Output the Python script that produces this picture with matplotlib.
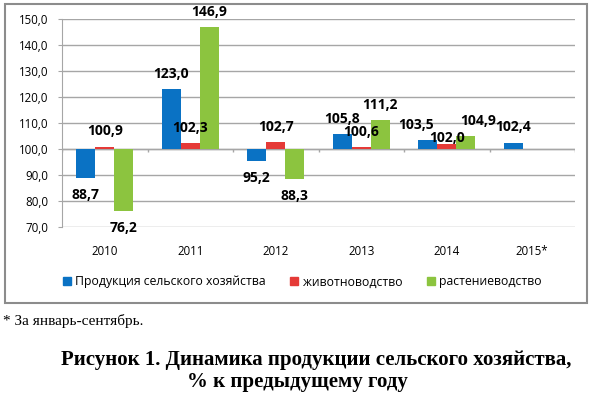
import numpy as np
import matplotlib.pyplot as plt
from matplotlib.patches import Rectangle, Patch
from matplotlib.ticker import FuncFormatter

years = ["2010", "2011", "2012", "2013", "2014", "2015*"]
total = [88.7, 123.0, 95.2, 105.8, 103.5, 102.4]
livestock = [100.9, 102.3, 102.7, 100.6, 102.0, np.nan]
crops = [76.2, 146.9, 88.3, 111.2, 104.9, np.nan]
series_names = ["Продукция сельского хозяйства", "животноводство", "растениеводство"]
colors = ["#0A72C4", "#E53A37", "#8CC43F"]

base = 100.0
# ручные сдвиги подписей (в пикселях), где они в оригинале сдвинуты
label_shift = {(4, 0): (-12, 0), (4, 1): (0, -9), (4, 2): (12, 0)}

W, H = 595, 397
fig = plt.figure(figsize=(W / 100, H / 100), dpi=100)
ax = fig.add_axes([62 / W, 1 - 227 / H, 513 / W, 208 / H])

x = np.arange(len(years))
bw = 0.222
grid_c = "#A6A6A6"

ax.set_ylim(70, 150)
ax.set_xlim(-0.5, len(years) - 0.5)
ax.set_yticks(np.arange(70, 151, 10))
ax.yaxis.set_major_formatter(FuncFormatter(lambda v, p: f"{v:.1f}".replace(".", ",")))
ax.grid(axis="y", color=grid_c, lw=1)
ax.set_axisbelow(True)
for s in ["top", "right", "bottom"]:
    ax.spines[s].set_visible(False)
ax.spines["left"].set_color(grid_c)
ax.tick_params(axis="y", length=3, color=grid_c, labelsize=8.3, pad=7)
ax.set_xticks(x)
ax.set_xticklabels(years)
ax.tick_params(axis="x", length=0, labelsize=8.3, pad=13)
for lab in ax.get_xticklabels() + ax.get_yticklabels():
    lab.set_fontfamily("Open Sans")

# ось категорий на уровне 100
ax.axhline(base, color=grid_c, lw=1, zorder=1)
ax.vlines(np.arange(-0.5, len(years)), base - 1.2, base, color=grid_c, lw=1)

for i, vals in enumerate([total, livestock, crops]):
    vals = np.array(vals)
    pos = x + (i - 1) * bw
    ok = ~np.isnan(vals)
    ax.bar(pos[ok], vals[ok] - base, bottom=base, width=bw, color=colors[i], zorder=2)
    for j in np.where(ok)[0]:
        v = vals[j]
        dy = 11 if v >= base else -12
        sx, sy = label_shift.get((j, i), (0, 0))
        ax.annotate(f"{v:.1f}".replace(".", ","), (pos[j], v), xytext=(sx * 0.72, dy + sy * 0.72),
                    textcoords="offset points", ha="center", va="center",
                    fontsize=10, fontweight="bold", family="Open Sans", zorder=3,
                    annotation_clip=False)

handles = [Patch(color=c) for c in colors]
fig.legend(handles, series_names, loc="center left", bbox_to_anchor=(52 / W, 1 - 282 / H),
           ncol=3, frameon=False, handlelength=0.65, handleheight=0.65, handletextpad=0.35,
           columnspacing=2.0, prop={"family": "Open Sans", "size": 8.8})

fig.patches.append(Rectangle((5 / W, 1 - 303 / H), 582 / W, 299 / H, transform=fig.transFigure,
                             fill=False, edgecolor="#8C8C8C", lw=1.5))

fig.text(3 / W, 1 - 321 / H, "* За январь-сентябрь.", family="Liberation Serif", fontsize=11,
         va="center", ha="left")
fig.text(316 / W, 1 - 360 / H, "Рисунок 1. Динамика продукции сельского хозяйства,",
         family="Liberation Serif", fontweight="bold", fontsize=15, ha="center", va="center")
fig.text(297 / W, 1 - 382 / H, "% к предыдущему году",
         family="Liberation Serif", fontweight="bold", fontsize=15, ha="center", va="center")

fig.savefig("out.png", dpi=100)
